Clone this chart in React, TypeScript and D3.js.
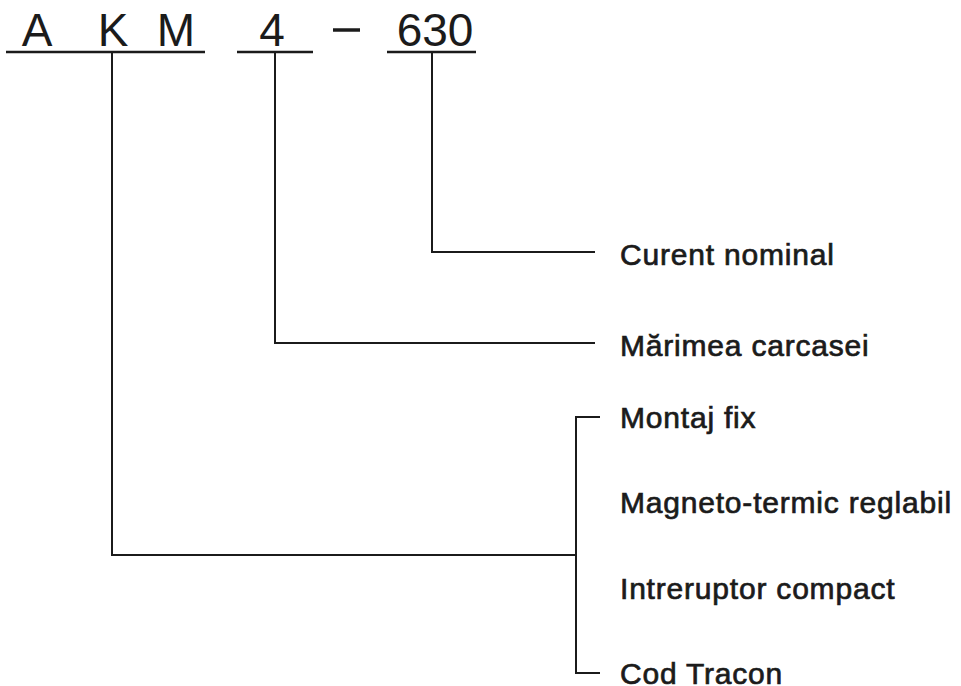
import React, { useEffect, useRef } from "react";
import * as d3 from "d3";

// code segments of the type designation
const codeParts = ["A", "K", "M", "4", "–", "630"];
const codeX = [37, 113, 176, 272, 347, 435];

// groups underlined in the code
const groups = [
  { name: "AKM", x0: 6, x1: 205, stem: 112 },
  { name: "4", x0: 237, x1: 313, stem: 275 },
  { name: "630", x0: 387, x1: 476, stem: 432 },
];

// single labels
const singleLabels = ["Curent nominal", "Mărimea carcasei"];
const singleRows = [252, 343];

// bracket labels for the AKM group
const bracketLabels = [
  "Montaj fix",
  "Magneto-termic reglabil",
  "Intreruptor compact",
  "Cod Tracon",
];

const App = () => {
  const svgRef = useRef<SVGSVGElement | null>(null);
  const width = 961;
  const height = 686;

  useEffect(() => {
    const svg = d3.select(svgRef.current);
    svg.selectAll("*").remove();
    const ink = "#1b1b1b";
    const font = "'Liberation Sans', Arial, Helvetica, sans-serif";

    const lineY = 52;
    const labelX = 620;
    const lineEnd = 595;
    const bracketX = 576;
    const tickEnd = 600;

    // bracket rows
    const yBracket = d3
      .scalePoint<string>()
      .domain(bracketLabels)
      .range([417, 673]);

    // top code text
    svg
      .selectAll(".code")
      .data(codeParts.filter((d) => d !== "–"))
      .join("text")
      .attr("class", "code")
      .attr("x", (d) => codeX[codeParts.indexOf(d)])
      .attr("y", 46)
      .attr("text-anchor", "middle")
      .attr("font-family", font)
      .attr("font-size", "46px")
      .attr("fill", ink)
      .text((d) => d);

    // dash
    svg
      .append("line")
      .attr("x1", 333)
      .attr("x2", 360)
      .attr("y1", 30)
      .attr("y2", 30)
      .attr("stroke", ink)
      .attr("stroke-width", 3.5);

    // underlines
    svg
      .selectAll(".under")
      .data(groups)
      .join("line")
      .attr("class", "under")
      .attr("x1", (d) => d.x0)
      .attr("x2", (d) => d.x1)
      .attr("y1", lineY)
      .attr("y2", lineY)
      .attr("stroke", ink)
      .attr("stroke-width", 2.5);

    const conn = svg
      .append("g")
      .attr("fill", "none")
      .attr("stroke", ink)
      .attr("stroke-width", 2);

    // 630 -> Curent nominal, 4 -> Mărimea carcasei
    conn
      .append("path")
      .attr("d", `M${groups[2].stem},${lineY}V${singleRows[0]}H${lineEnd}`);
    conn
      .append("path")
      .attr("d", `M${groups[1].stem},${lineY}V${singleRows[1]}H${lineEnd}`);

    // K -> bracket
    conn
      .append("path")
      .attr("d", `M${groups[0].stem},${lineY}V555H${bracketX}`);
    const yTop = yBracket(bracketLabels[0]) as number;
    const yBot = yBracket(bracketLabels[bracketLabels.length - 1]) as number;
    conn
      .append("path")
      .attr("d", `M${tickEnd},${yTop}H${bracketX}V${yBot}H${tickEnd}`);

    // labels (medium weight look: regular + thin stroke)
    const styleLabel = (sel: any) =>
      sel
        .attr("x", labelX)
        .attr("font-family", font)
        .attr("font-size", "30px")
        .attr("letter-spacing", "0.8px")
        .attr("fill", ink)
        .attr("stroke", ink)
        .attr("stroke-width", 0.7);

    svg
      .selectAll(".single")
      .data(singleLabels)
      .join("text")
      .attr("class", "single")
      .call(styleLabel)
      .attr("y", (d, i) => singleRows[i] + 13)
      .text((d) => d);

    svg
      .selectAll(".bracket")
      .data(bracketLabels)
      .join("text")
      .attr("class", "bracket")
      .call(styleLabel)
      .attr("y", (d) => (yBracket(d) as number) + 11)
      .text((d) => d);
  }, []);

  return (
    <svg
      ref={svgRef}
      width={width}
      height={height}
      style={{ position: "absolute", left: 0, top: 0, background: "#fff" }}
    />
  );
};

export default App;
